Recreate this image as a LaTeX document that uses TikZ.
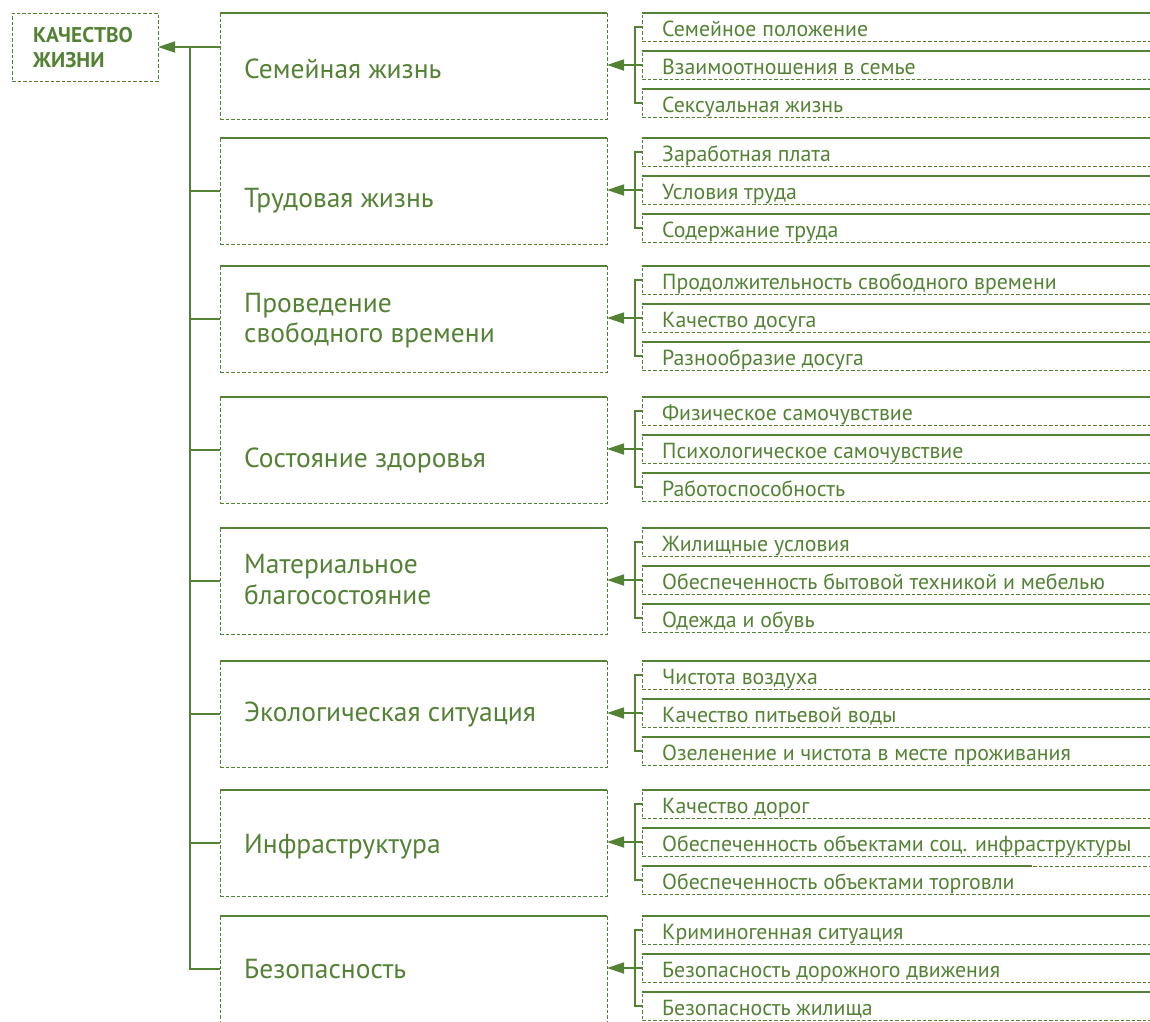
\documentclass[tikz,border=0pt]{standalone}
\usepackage{fontspec}
\setmainfont{PT Sans}
\usetikzlibrary{arrows.meta}
\definecolor{gr}{RGB}{84,130,53}
\tikzset{
  dsh/.style={draw=gr, line width=1pt, dash pattern=on 3.5pt off 2pt},
  catbox/.style={dsh, rectangle, anchor=north west, minimum width=387pt, minimum height=106pt, inner sep=0pt, outer sep=0pt},
  itembox/.style={dsh, rectangle, anchor=north west, minimum width=560pt, minimum height=28pt, inner sep=0pt, outer sep=0pt},
  topline/.style={draw=gr, line width=1.3pt},
  conn/.style={draw=gr, line width=1.8pt},
  arr/.style={conn, -{Triangle[length=17pt,width=11pt]}},
  cattext/.style={text=gr, font=\fontsize{27.5}{30}\selectfont, anchor=base west, inner sep=0pt},
  itemtext/.style={text=gr, font=\fontsize{21.8}{23}\selectfont, anchor=base west, inner sep=0pt},
  qtext/.style={text=gr, font=\fontsize{21.3}{24}\selectfont\bfseries, anchor=base west, inner sep=0pt}
}
\newcommand\mygroup[5]{%
  \node[catbox] (c#1) at (220,#2) {};
  \draw[topline] (c#1.north west) -- (c#1.north east);
  \node[itembox] (i#1a) at (642,#2) {};
  \node[itembox] (i#1b) at (642,#2+38) {};
  \node[itembox] (i#1c) at (642,#2+76) {};
  \draw[topline] (i#1a.north west) -- (i#1a.north east);
  \draw[topline] (i#1b.north west) -- (i#1b.north east);
  \node[itemtext] (t#1a) at (662,#2+23.5) {#3};
  \node[itemtext] (t#1b) at (662,#2+61.5) {#4};
  \node[itemtext] (t#1c) at (662,#2+99) {#5};
  \draw[conn] (i#1a.west) -- ++(-7pt,0) |- (i#1c.west);
  \draw[arr] (i#1b.west) -- (i#1b.west -| c#1.east);
}
\begin{document}
\begin{tikzpicture}[x=1pt,y=-1pt]
\useasboundingbox (0,0) rectangle (1150,1021);
\clip (0,0) rectangle (1150,1021);

\node[dsh, rectangle, anchor=north west, minimum width=146pt, minimum height=68pt, inner sep=0pt, outer sep=0pt] (q) at (12,13) {};
\node[qtext] (q1) at (33,42) {КАЧЕСТВО};
\node[qtext] (q2) at (33,67) {ЖИЗНИ};

\mygroup{1}{13}{Семейное положение}{Взаимоотношения в семье}{Сексуальная жизнь}
\mygroup{2}{138}{Заработная плата}{Условия труда}{Содержание труда}
\mygroup{3}{266}{Продолжительность свободного времени}{Качество досуга}{Разнообразие досуга}
\mygroup{4}{397}{Физическое самочувствие}{Психологическое самочувствие}{Работоспособность}
\mygroup{5}{528}{Жилищные условия}{Обеспеченность бытовой техникой и мебелью}{Одежда и обувь}
\mygroup{6}{661}{Чистота воздуха}{Качество питьевой воды}{Озеленение и чистота в месте проживания}
\mygroup{7}{790}{Качество дорог}{Обеспеченность объектами соц. инфраструктуры}{Обеспеченность объектами торговли}
\mygroup{8}{916}{Криминогенная ситуация}{Безопасность дорожного движения}{Безопасность жилища}

% solid top lines of third items
\foreach \k in {1,2,3,4,5,6,8} {
  \draw[topline] (i\k c.north west) -- (i\k c.north east);
}
\draw[topline] (i7c.north west) -- (i7c.north west -| 1032,0);

% category texts
\node[cattext] (k1) at (244,78) {Семейная жизнь};
\node[cattext] (k2) at (244,207) {Трудовая жизнь};
\node[cattext] (k3a) at (244,312) {Проведение};
\node[cattext] (k3b) at (244,342) {свободного времени};
\node[cattext] (k4) at (244,467) {Состояние здоровья};
\node[cattext] (k5a) at (244,573) {Материальное};
\node[cattext] (k5b) at (244,604) {благосостояние};
\node[cattext] (k6) at (244,721) {Экологическая ситуация};
\node[cattext] (k7) at (244,853) {Инфраструктура};
\node[cattext] (k8) at (244,978) {Безопасность};

% trunk
\coordinate (j) at (190,47);
\draw[arr] (c1.west |- q.east) -- (q.east);
\draw[conn] (j) |- (c8.west);
\foreach \k in {2,...,7} {
  \draw[conn] (j) |- (c\k.west);
}
\end{tikzpicture}
\end{document}
